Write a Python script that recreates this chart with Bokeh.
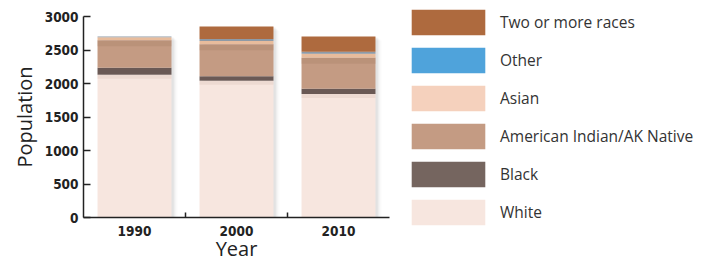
from bokeh.plotting import figure
from bokeh.models import ColumnDataSource, FixedTicker, Legend, LegendItem, Range1d
from bokeh.embed import file_html
from bokeh.resources import INLINE

years = ["1990", "2000", "2010"]
races = ["White", "Black", "American Indian/AK Native", "Asian", "Other", "Two or more races"]
white = [2130, 2040, 1845]
black = [105, 70, 75]
aian = [410, 475, 465]
asian = [45, 50, 60]
other = [10, 30, 30]
two_more = [0, 184, 225]

bar_colors = ["#f7e6df", "#6a5955", "#c49b83", "#e8bc9c", "#8e9aa6", "#ae6a3e"]
legend_colors = ["#f7e6df", "#75655f", "#c49b83", "#f5d1bd", "#4fa3db", "#ae6a3e"]

series = [white, black, aian, asian, other, two_more]
xs = [i + 0.5 for i in range(len(years))]
data = {"x": xs}
for name, vals in zip(races, series):
    data[name] = vals
source = ColumnDataSource(data)
totals = [sum(v) for v in zip(*series)]

FONT = "Open Sans"
AXFONT = "DejaVu Sans Condensed"

p = figure(frame_width=306, frame_height=201, output_backend="svg", toolbar_location=None,
           x_range=Range1d(0, 3), y_range=Range1d(0, 3000),
           min_border_left=83, min_border_right=0, min_border_top=16, min_border_bottom=44)
p.outline_line_color = None
p.grid.visible = False

# soft shadows to the right of bars
for k, a in enumerate([0.10, 0.07, 0.05, 0.03]):
    off = 0.012 * (k + 1)
    p.vbar(x=[x + off + 0.01 for x in xs], top=[t - 15 * (k + 1) for t in totals], bottom=0,
           width=0.725, fill_color="#888888", fill_alpha=a, line_color=None)

p.vbar_stack(races, x="x", width=0.725, source=source, color=bar_colors, line_color=None)

# shading under the top segments
p.vbar(x=xs, top=white, bottom=[w - 60 for w in white], width=0.725,
       fill_color="#d9c3ba", fill_alpha=0.35, line_color=None)
tops_aian = [w + b + a for w, b, a in zip(white, black, aian)]
p.vbar(x=xs, top=tops_aian, bottom=[t - 90 for t in tops_aian], width=0.725,
       fill_color="#a88068", fill_alpha=0.35, line_color=None)

# axes
p.yaxis.ticker = FixedTicker(ticks=[0, 500, 1000, 1500, 2000, 2500, 3000])
p.yaxis.major_tick_in = 7
p.yaxis.major_tick_out = 0
p.yaxis.minor_tick_line_color = None
p.yaxis.axis_line_color = "#222222"
p.yaxis.major_tick_line_color = "#222222"
p.yaxis.axis_line_width = 1.5
p.yaxis.major_tick_line_width = 1.5
p.yaxis.major_label_text_font = AXFONT
p.yaxis.major_label_text_font_size = "13.5px"
p.yaxis.major_label_text_font_style = "bold"
p.yaxis.major_label_text_color = "#222222"
p.yaxis.major_label_standoff = 5
p.yaxis.axis_label = "Population"
p.yaxis.axis_label_text_font = FONT
p.yaxis.axis_label_text_font_size = "20px"
p.yaxis.axis_label_text_font_style = "normal"
p.yaxis.axis_label_text_color = "#222222"
p.yaxis.axis_label_standoff = 4

p.xaxis.ticker = FixedTicker(ticks=xs, minor_ticks=[1, 2])
p.xaxis.major_label_overrides = {x: y for x, y in zip(xs, years)}
p.xaxis.major_tick_line_color = None
p.xaxis.minor_tick_in = 5
p.xaxis.minor_tick_out = 0
p.xaxis.minor_tick_line_color = "#222222"
p.xaxis.minor_tick_line_width = 1.5
p.xaxis.axis_line_color = "#222222"
p.xaxis.axis_line_width = 1.5
p.xaxis.major_label_text_font = AXFONT
p.xaxis.major_label_text_font_size = "13.5px"
p.xaxis.major_label_text_font_style = "bold"
p.xaxis.major_label_text_color = "#222222"
p.xaxis.major_label_standoff = 2
p.xaxis.axis_label = "Year"
p.xaxis.axis_label_text_font = FONT
p.xaxis.axis_label_text_font_size = "20px"
p.xaxis.axis_label_text_font_style = "normal"
p.xaxis.axis_label_text_color = "#222222"
p.xaxis.axis_label_standoff = -4

# legend (swatches via off-range proxy renderers)
items = []
for name, col in zip(races, legend_colors):
    r = p.vbar(x=[-10], top=[0], width=0.5, fill_color=col, line_color=None)
    items.append(LegendItem(label=name, renderers=[r]))
items.reverse()
legend = Legend(items=items, location="center_left", orientation="vertical",
                glyph_width=92, glyph_height=32, spacing=6, label_standoff=6,
                label_height=32, padding=0, margin=13, border_line_color=None,
                background_fill_alpha=0,
                label_text_font=FONT, label_text_font_size="15.5px", label_text_color="#333333")
p.add_layout(legend, "right")

open("out.html", "w").write(file_html(p, INLINE))
